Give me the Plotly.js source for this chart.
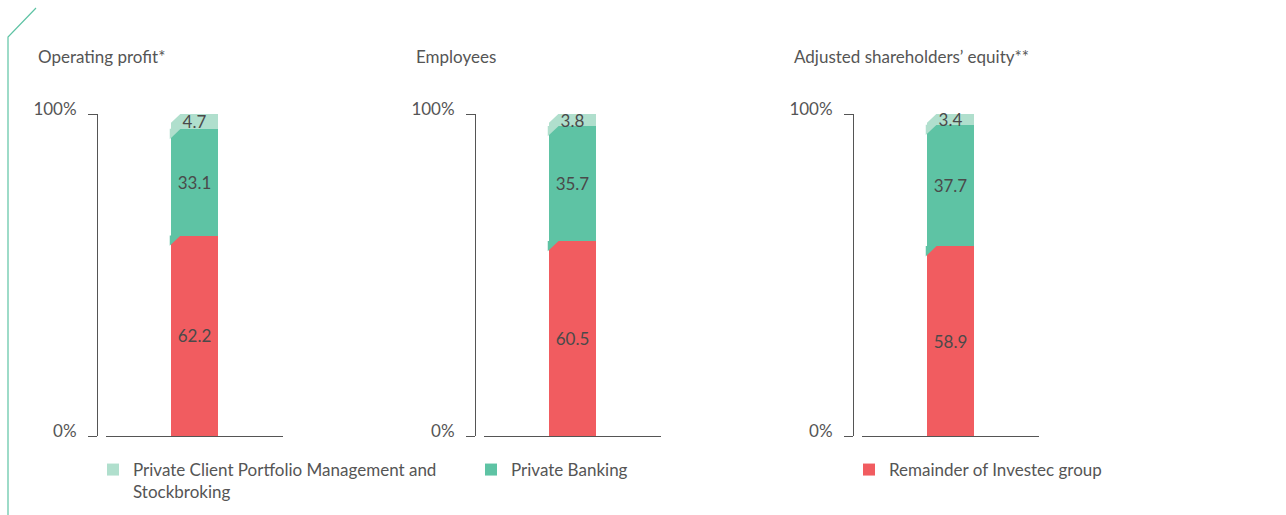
<!DOCTYPE html>
<html>
<head>
<meta charset="utf-8">
<script src="https://cdn.plot.ly/plotly-3.0.1.min.js"></script>
<style>
html,body{margin:0;padding:0;background:#fff;}
#chart{width:1286px;height:515px;}
</style>
</head>
<body>
<div id="chart"></div>
<script>
// ---- data ----
const categories = ['Operating profit*', 'Employees', 'Adjusted shareholders\u2019 equity**'];
const seriesNames = ['Private Client Portfolio Management and<br>Stockbroking', 'Private Banking', 'Remainder of Investec group'];
const pcpmValues = [4.7, 3.8, 3.4];
const privateBankingValues = [33.1, 35.7, 37.7];
const remainderValues = [62.2, 60.5, 58.9];
const yTickVals = [0, 100];
const yTickText = ['0%', '100%'];

// ---- styles ----
const colors = {pcpm: '#b0dfcd', pb: '#5ec3a4', rem: '#f15c60'};
const textColor = '#555555';
const fontFamily = 'Lato, "Open Sans", sans-serif';
const W = 1286, H = 515;

// panel geometry (pixels)
const panelStep = 378;
const yAxisX0 = 97, xAxisL0 = 106, xAxisR0 = 283;
const plotTop = 114, plotBottom = 436;

const traces = [];
const layout = {
  width: W, height: H,
  margin: {l: 0, r: 0, t: 0, b: 0, autoexpand: false},
  paper_bgcolor: '#fff', plot_bgcolor: 'rgba(0,0,0,0)',
  barmode: 'stack',
  bargap: 0.73,
  font: {family: fontFamily, size: 17, color: textColor},
  showlegend: true,
  legend: {
    orientation: 'h', x: 93 / W, y: 1 - 452 / H, xanchor: 'left', yanchor: 'top',
    entrywidth: 333, entrywidthmode: 'pixels', valign: 'top',
    font: {family: fontFamily, size: 17, color: textColor},
    bgcolor: 'rgba(0,0,0,0)', traceorder: 'normal'
  },
  annotations: [],
  shapes: []
};

const series = [
  {key: 'rem', vals: remainderValues, name: seriesNames[2], rank: 3},
  {key: 'pb', vals: privateBankingValues, name: seriesNames[1], rank: 2},
  {key: 'pcpm', vals: pcpmValues, name: seriesNames[0], rank: 1}
];

categories.forEach((cat, i) => {
  const xa = i === 0 ? 'x' : 'x' + (i + 1);
  const ya = i === 0 ? 'y' : 'y' + (i + 1);
  const xaKey = i === 0 ? 'xaxis' : 'xaxis' + (i + 1);
  const yaKey = i === 0 ? 'yaxis' : 'yaxis' + (i + 1);
  const off = i * panelStep;
  layout[xaKey] = {
    domain: [(xAxisL0 + off) / W, (xAxisR0 + off) / W],
    anchor: ya, range: [-0.5, 0.5], fixedrange: true,
    showline: true, linecolor: '#555', linewidth: 1,
    showticklabels: false, ticks: '', showgrid: false, zeroline: false
  };
  layout[yaKey] = {
    domain: [1 - plotBottom / H, 1 - plotTop / H],
    anchor: 'free', position: (yAxisX0 + off) / W,
    range: [0, 100.02], fixedrange: true,
    showline: true, linecolor: '#555', linewidth: 1,
    ticks: 'outside', ticklen: 9, tickcolor: '#555', tickwidth: 1,
    tickvals: yTickVals, ticktext: yTickText,
    ticklabelshift: -5, ticklabelstandoff: 8,
    tickfont: {family: fontFamily, size: 17, color: textColor},
    showgrid: false, zeroline: false
  };
  series.forEach(s => {
    traces.push({
      type: 'bar', x: [cat], y: [s.vals[i]], xaxis: xa, yaxis: ya,
      name: s.name, legendgroup: s.key, legendrank: s.rank, showlegend: i === 0,
      marker: {color: colors[s.key], line: {width: 0}},
      text: [s.vals[i].toFixed(1)], textposition: 'inside', insidetextanchor: 'middle',
      constraintext: 'none', cliponaxis: false,
      textfont: {family: fontFamily, size: 17, color: '#4a4a4a'},
      hoverinfo: 'skip'
    });
  });
  // chamfered top-left corners, derived from the stacked data
  const chamferX = 10 / (xAxisR0 - xAxisL0);
  const chamferY = 10 / (plotBottom - plotTop) * 100;
  const halfW = (1 - layout.bargap) / 2;
  let cum = 0;
  series.forEach((s, k) => {
    cum += s.vals[i];
    const fill = k < series.length - 1 ? colors[series[k + 1].key] : '#ffffff';
    const xl = -halfW, yt = cum;
    layout.shapes.push({
      type: 'path', xref: xa, yref: ya, layer: 'above',
      path: `M${xl - 0.005},${yt + 0.1} L${xl + chamferX},${yt + 0.1} L${xl - 0.005},${yt - chamferY} Z`,
      fillcolor: fill, line: {width: 0}
    });
  });
  layout.annotations.push({
    xref: 'paper', yref: 'paper', x: (36 + off) / W, y: 1 - 56 / H,
    xanchor: 'left', yanchor: 'middle', showarrow: false, text: cat,
    font: {family: fontFamily, size: 17, color: textColor}
  });
});

// decorative corner line
layout.shapes.push({
  type: 'path', xref: 'paper', yref: 'paper', layer: 'above',
  path: `M${8 / W},0 L${8 / W},${1 - 37 / H} L${36 / W},${1 - 8 / H}`,
  line: {color: '#5ec3a4', width: 1.2}
});

Plotly.newPlot('chart', traces, layout, {displayModeBar: false, staticPlot: true});
</script>
</body>
</html>
